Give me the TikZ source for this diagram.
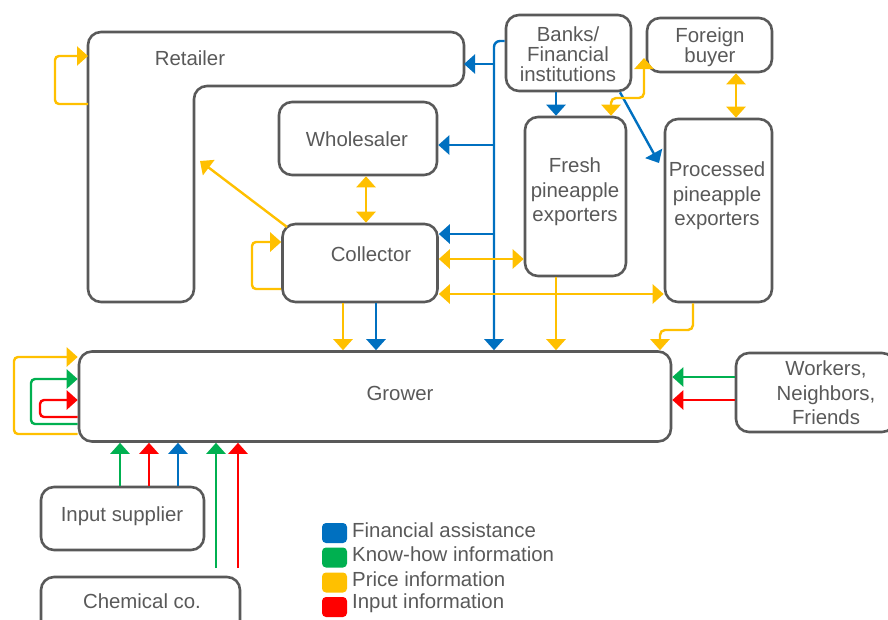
\documentclass[tikz,border=0pt]{standalone}
\usepackage{fontspec}
\setmainfont{Liberation Sans}
\usetikzlibrary{arrows.meta}
\definecolor{fin}{HTML}{0070C0}
\definecolor{know}{HTML}{00B050}
\definecolor{price}{HTML}{FFC000}
\definecolor{inp}{HTML}{FF0000}
\definecolor{edge}{HTML}{595959}
\tikzset{
  actor/.style={draw=edge, line width=2.6pt, rounded corners=13pt, inner sep=0pt},
  lbl/.style={text=edge, font=\fontsize{20.4}{24.5}\selectfont, align=center, inner sep=0pt},
  flow/.style={line width=2.4pt, -{Triangle[width=19pt,length=11pt]}},
  both/.style={line width=2.4pt, {Triangle[width=19pt,length=11pt]}-{Triangle[width=19pt,length=11pt]}},
  key/.style={rounded corners=4pt, minimum width=25pt, minimum height=20pt, inner sep=0pt},
}
\begin{document}
\begin{tikzpicture}[x=1pt, y=-1pt]
  \useasboundingbox (0,0) rectangle (888,619);
  % actors
  \draw[actor] (88,32) -- (464,32) -- (464,86) -- (194,86) -- (194,302) -- (88,302) -- cycle;
  \coordinate (retailer) at (464,64);
  \coordinate (retailer-w) at (88,80);
  \coordinate (retailer-in) at (200,161);
  \node[lbl] (retailer-t) at (190,58) {Retailer};
  \node[actor, minimum width=158pt, minimum height=73pt] (wholesaler) at (358,138.5) {};
  \node[lbl] (wholesaler-t) at (357,139) {Wholesaler};
  \node[actor, minimum width=155pt, minimum height=78pt] (collector) at (360,263) {};
  \node[lbl] (collector-t) at (371,254) {Collector};
  \node[actor, minimum width=125pt, minimum height=76pt] (banks) at (568.5,53) {};
  \node[lbl, font=\fontsize{20.4}{20}\selectfont] (banks-t) at (568,54) {Banks/\\Financial\\institutions};
  \node[actor, minimum width=125pt, minimum height=54pt] (buyer) at (709.5,45) {};
  \node[lbl, font=\fontsize{20.4}{20}\selectfont] (buyer-t) at (710,47) {Foreign\\buyer};
  \coordinate (buyer-sw) at (644,58);
  \node[actor, minimum width=101pt, minimum height=159pt] (fresh) at (575.5,196.5) {};
  \node[lbl] (fresh-t) at (575,192) {Fresh\\pineapple\\exporters};
  \node[actor, minimum width=107pt, minimum height=183pt] (processed) at (718.5,210.5) {};
  \node[lbl] (processed-t) at (717,196) {Processed\\pineapple\\exporters};
  \coordinate (processed-in) at (659,163);
  \node[actor, minimum width=592pt, minimum height=90pt] (grower) at (375,396.5) {};
  \node[lbl] (grower-t) at (400,393) {Grower};
  \node[actor, minimum width=159pt, minimum height=79pt] (workers) at (815.5,392.5) {};
  \node[lbl] (workers-t) at (826,393) {Workers,\\Neighbors,\\Friends};
  \node[actor, minimum width=163pt, minimum height=63pt] (supplier) at (122.5,518.5) {};
  \node[lbl] (supplier-t) at (122,516) {Input supplier};
  \node[actor, minimum width=199pt, minimum height=63pt] (chemical) at (140.5,608.5) {};
  \node[lbl] (chemical-t) at (142,601) {Chemical co.};
  \coordinate (chemical-top) at (0,568);
  % financial assistance
  \coordinate (trunk) at (494,41);
  \begin{scope}[fin]
    \draw[flow, rounded corners=6pt] (banks.west |- trunk) -| (grower.north -| trunk);
    \draw[flow] (trunk |- retailer) -- (retailer);
    \draw[flow] (trunk |- 0,145) -- (wholesaler.east |- 0,145);
    \draw[flow] (trunk |- 0,234) -- (collector.east |- 0,234);
    \draw[flow] (banks.south -| 556,0) -- (fresh.north -| 556,0);
    \draw[flow] (banks.south -| 620,0) -- (processed-in);
    \draw[flow] (collector.south -| 376,0) -- (grower.north -| 376,0);
    \draw[flow] (supplier.north -| 178,0) -- (grower.south -| 178,0);
  \end{scope}
  % price information
  \begin{scope}[price]
    \draw[flow, rounded corners=4pt] (retailer-w |- 0,104) -| (55,56) -- (retailer-w |- 0,56);
    \draw[flow, rounded corners=4pt] (collector.west |- 0,289) -| (252,242) -- (collector.west |- 0,242);
    \draw[flow] (287,227) -- (retailer-in);
    \draw[both] (wholesaler.south -| 366,0) -- (collector.north -| 366,0);
    \draw[both, rounded corners=5pt] (fresh.north -| 611,0) |- (buyer-sw |- 0,98) -- (buyer-sw);
    \draw[both] (buyer.south -| 736,0) -- (processed.north -| 736,0);
    \draw[both] (collector.east |- 0,259) -- (fresh.west |- 0,259);
    \draw[both] (collector.east |- 0,294) -- (processed.west |- 0,294);
    \draw[flow] (collector.south -| 343,0) -- (grower.north -| 343,0);
    \draw[flow] (fresh.south -| 556,0) -- (grower.north -| 556,0);
    \draw[flow, rounded corners=5pt] (processed.south -| 693,0) |- (660,330) -- (grower.north -| 660,0);
    \draw[flow, rounded corners=4pt] (grower.west |- 0,434) -| (14,357) -- (grower.west |- 0,357);
  \end{scope}
  % know-how information
  \begin{scope}[know]
    \draw[flow, rounded corners=4pt] (grower.west |- 0,424) -| (31,379) -- (grower.west |- 0,379);
    \draw[flow] (workers.west |- 0,377) -- (grower.east |- 0,377);
    \draw[flow] (supplier.north -| 120,0) -- (grower.south -| 120,0);
    \draw[flow] (chemical-top -| 216,0) -- (grower.south -| 216,0);
  \end{scope}
  % input information
  \begin{scope}[inp]
    \draw[flow, rounded corners=4pt] (grower.west |- 0,417) -| (40,400) -- (grower.west |- 0,400);
    \draw[flow] (workers.west |- 0,400) -- (grower.east |- 0,400);
    \draw[flow] (supplier.north -| 149,0) -- (grower.south -| 149,0);
    \draw[flow] (chemical-top -| 238,0) -- (grower.south -| 238,0);
  \end{scope}
  % legend
  \node[key, fill=fin] (key-fin) at (334.5,533) {};
  \node[lbl, anchor=west] (key-fin-t) at (352,530) {Financial assistance};
  \node[key, fill=know] (key-know) at (334.5,557.5) {};
  \node[lbl, anchor=west] (key-know-t) at (352,554) {Know-how information};
  \node[key, fill=price] (key-price) at (334.5,582.5) {};
  \node[lbl, anchor=west] (key-price-t) at (352,579) {Price information};
  \node[key, fill=inp] (key-inp) at (334.5,607) {};
  \node[lbl, anchor=west] (key-inp-t) at (352,603) {Input information};
\end{tikzpicture}
\end{document}
